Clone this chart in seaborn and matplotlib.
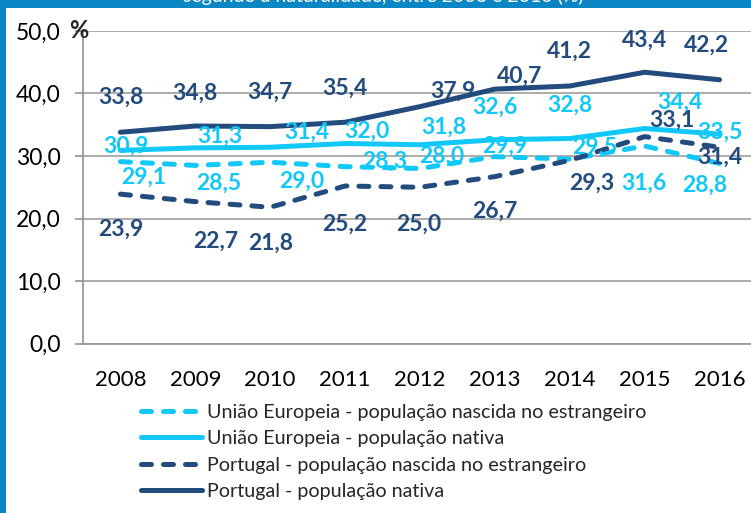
import seaborn as sns
import matplotlib.pyplot as plt
import pandas as pd
from matplotlib.patches import Rectangle

# Dados (%)
anos = ["2008", "2009", "2010", "2011", "2012", "2013", "2014", "2015", "2016"]
ue_estrangeiro = [29.1, 28.5, 29.0, 28.3, 28.0, 29.9, 29.5, 31.6, 28.8]
ue_nativa = [30.9, 31.3, 31.4, 32.0, 31.8, 32.6, 32.8, 34.4, 33.5]
pt_estrangeiro = [23.9, 22.7, 21.8, 25.2, 25.0, 26.7, 29.3, 33.1, 31.4]
pt_nativa = [33.8, 34.8, 34.7, 35.4, 37.9, 40.7, 41.2, 43.4, 42.2]

series = [
    "União Europeia - população nascida no estrangeiro",
    "União Europeia - população nativa",
    "Portugal - população nascida no estrangeiro",
    "Portugal - população nativa",
]
valores = [ue_estrangeiro, ue_nativa, pt_estrangeiro, pt_nativa]

azul_claro = "#12C8F8"
azul_escuro = "#234B7E"
cores = {series[0]: azul_claro, series[1]: azul_claro,
         series[2]: azul_escuro, series[3]: azul_escuro}
tracos = {series[0]: (2, 2.4), series[1]: "", series[2]: (2, 2.4), series[3]: ""}

# deslocamento das etiquetas (pixels) em relação ao ponto
desloc = [
    [(23, -16), (23, -18), (32, -19), (40, 5), (22, 12), (10, 10), (25, 12), (-1, -37), (-15, -22)],
    [(5, 4), (25, 12), (37, 15), (22, 12), (24, 18), (0, 33), (0, 33), (35, 26), (0, 2)],
    [(0, -35), (20, -40), (0, -36), (0, -38), (-1, -37), (0, -35), (22, -23), (27, 16), (0, -10)],
    [(0, 35), (0, 33), (0, 34), (0, 34), (33, 15), (25, 13), (0, 35), (0, 32), (-13, 35)],
]

linhas = []
for s, v in zip(series, valores):
    for i, y in enumerate(v):
        linhas.append({"serie": s, "x": i, "valor": y})
df = pd.DataFrame(linhas)

sns.set_theme(style="white")
plt.rcParams["font.family"] = ["Lato", "DejaVu Sans"]

fig = plt.figure(figsize=(7.51, 5.13), dpi=100)
fig.patch.set_facecolor("#0A86C4")
fig.patches.append(Rectangle((6 / 751, 0), 1, 1 - 8 / 513, transform=fig.transFigure,
                             facecolor="white", edgecolor="none", zorder=-5))
fig.text(383 / 751, 1 - 2 / 513, "segundo a naturalidade, entre 2008 e 2016 (%)",
         color="white", fontsize=14, ha="center", va="baseline")

ax = fig.add_axes([83 / 751, 169.5 / 513, 674 / 751, 312.5 / 513])
ax.set_facecolor("none")

sns.lineplot(data=df, x="x", y="valor", hue="serie", style="serie",
             hue_order=series, style_order=series, palette=cores, dashes=tracos,
             linewidth=3.6, legend=False, ax=ax,
             dash_capstyle="round", solid_capstyle="round")

for s, v, cor, offs in zip(series, valores, [azul_claro, azul_claro, azul_escuro, azul_escuro], desloc):
    for i, y in enumerate(v):
        ax.annotate(f"{y:.1f}".replace(".", ","), (i, y), xytext=offs[i],
                    textcoords="offset pixels", ha="center", va="center",
                    color=cor, fontsize=16.5, fontweight="bold")

ax.set_xlim(-0.5, 8.5)
ax.set_ylim(0, 50)
ax.set_yticks(range(0, 51, 10))
ax.set_yticklabels([f"{t},0" for t in range(0, 51, 10)], fontsize=16.5, color="black")
ax.set_xticks(range(len(anos)))
ax.set_xticklabels(anos, fontsize=16, color="black")
ax.set_xticks([i - 0.5 for i in range(len(anos) + 1)], minor=True)
ax.tick_params(axis="x", which="major", length=0, pad=19)
ax.tick_params(axis="x", which="minor", length=6, width=1.3, color="#9A9A9A", direction="out")
ax.tick_params(axis="y", length=6, width=1.3, color="#9A9A9A", direction="out", pad=10, left=True)
ax.grid(axis="y", color="#A6A6A6", linewidth=1.3)
ax.set_xlabel("")
ax.set_ylabel("")
for lado in ["top", "right"]:
    ax.spines[lado].set_visible(False)
for lado in ["left", "bottom"]:
    ax.spines[lado].set_color("#9A9A9A")
    ax.spines[lado].set_linewidth(1.3)

fig.text(79 / 751, 1 - 31 / 513, "%", fontsize=17, fontweight="bold", ha="center", va="center")

ax.legend(ax.get_lines()[:4], series, loc="upper left", bbox_to_anchor=(141 / 751, 1 - 404 / 513),
          bbox_transform=fig.transFigure, frameon=False, fontsize=14.2, handlelength=3.1,
          handletextpad=0.25, labelspacing=0.47, borderaxespad=0, borderpad=0)

fig.savefig("out.png", dpi=100)
